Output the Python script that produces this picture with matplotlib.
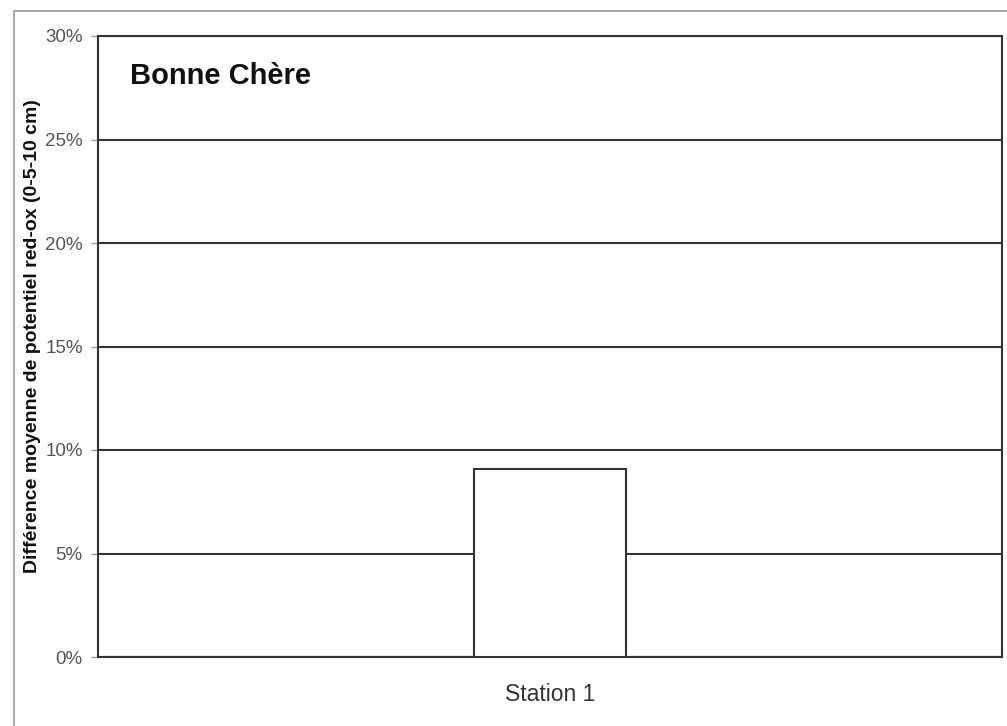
import numpy as np
import matplotlib
matplotlib.use('Agg')
import matplotlib.pyplot as plt
from matplotlib.patches import Rectangle
from matplotlib.ticker import PercentFormatter

plt.rcParams['font.family'] = ['Liberation Sans', 'DejaVu Sans']

# data
stations = ['Station 1']
diff_redox = [0.091]
yticks = [0.0, 0.05, 0.10, 0.15, 0.20, 0.25, 0.30]

fig = plt.figure(figsize=(10.07, 7.26), dpi=100)

# outer chart frame (partly cut off at right/bottom)
fig.patches.append(Rectangle((14/1007., -0.05), 1.2, 1 - 11/726. + 0.05,
                             transform=fig.transFigure, fill=False,
                             edgecolor='#aaaaaa', lw=1.5))

ax = fig.add_axes([98/1007., 1 - 657/726., (1002-98)/1007., (657-36)/726.])

xpos = np.arange(len(stations))
ax.bar(xpos, diff_redox, width=0.168, color='white', edgecolor='#333333',
       linewidth=1.5, zorder=3)

ax.set_xlim(-0.5, 0.5)
ax.set_ylim(0, 0.30)
ax.set_yticks(yticks)
ax.yaxis.set_major_formatter(PercentFormatter(1.0, decimals=0))
ax.yaxis.grid(True, color='#333333', lw=1.5, zorder=0)
ax.set_axisbelow(True)

ax.set_xticks(xpos)
ax.set_xticklabels(stations, fontsize=16.5, color='#333333')
ax.tick_params(axis='x', length=0, pad=19)
ax.tick_params(axis='y', length=5, width=1, color='#999999', labelcolor='#555555',
               labelsize=13.5, pad=6)

for s in ax.spines.values():
    s.set_color('#333333')
    s.set_linewidth(1.5)

ax.set_ylabel('Différence moyenne de potentiel red-ox (0-5-10 cm)',
              fontsize=14, fontweight='bold', color='#111111')
ax.yaxis.set_label_coords(-0.063, 0.517)

ax.text(0.035, 0.935, 'Bonne Chère', transform=ax.transAxes, fontsize=21,
        fontweight='bold', va='center', ha='left', color='#111111')

plt.savefig('out.png', dpi=100)
